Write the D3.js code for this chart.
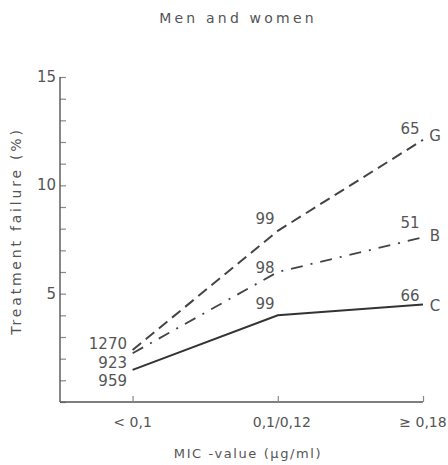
<!DOCTYPE html>
<html><head><meta charset="utf-8">
<script src="https://cdn.jsdelivr.net/npm/d3@7"></script>
<style>
html,body{margin:0;padding:0;background:#fff;}
text{font-family:"DejaVu Sans",sans-serif;fill:#555;}
</style></head>
<body><svg id="c" width="448" height="465"></svg>
<script>
const categories = ["< 0,1", "0,1/0,12", "\u2265 0,18"];
const seriesNames = ["G", "B", "C"];
const valuesG = [2.4, 7.9, 12.1];
const valuesB = [2.25, 6.0, 7.6];
const valuesC = [1.48, 4.0, 4.5];
const countsG = ["1270", "99", "65"];
const countsB = ["923", "98", "51"];
const countsC = ["959", "99", "66"];
const yTicks = [5, 10, 15];

const svg = d3.select("#c");
const x = d3.scaleLinear().domain([-0.5, 2]).range([60, 423]);
const y = d3.scaleLinear().domain([0, 15]).range([402, 77]);

// title
svg.append("text").attr("x", 238).attr("y", 23).attr("text-anchor", "middle")
  .attr("font-size", 14).attr("letter-spacing", 3.2).text("Men and women");

// y axis
const yAxis = d3.axisRight(y).tickValues(d3.range(0, 16, 1)).tickSize(6).tickFormat("");
const gy = svg.append("g").attr("transform", "translate(60,0)").call(yAxis);
gy.select(".domain").remove();
gy.selectAll("line").attr("stroke", "#888").attr("stroke-width", 1.2);
svg.append("line").attr("x1", 60).attr("x2", 60).attr("y1", y(15)).attr("y2", y(0))
  .attr("stroke", "#555").attr("stroke-width", 1.4);
svg.selectAll(".ylab").data(yTicks).join("text").attr("class", "ylab")
  .attr("x", 56).attr("y", d => y(d) + 5).attr("text-anchor", "end")
  .attr("font-size", 15).text(d => d);

// x axis
svg.append("line").attr("x1", x(-0.5)).attr("x2", x(2)).attr("y1", 402).attr("y2", 402)
  .attr("stroke", "#555").attr("stroke-width", 1.4);
const xAxis = d3.axisTop(x).tickValues([0, 1, 2]).tickSize(6).tickFormat("");
const gx = svg.append("g").attr("transform", "translate(0,402)").call(xAxis);
gx.select(".domain").remove();
gx.selectAll("line").attr("stroke", "#888").attr("stroke-width", 1.2);
svg.selectAll(".xlab").data(categories).join("text").attr("class", "xlab")
  .attr("x", (d, i) => x(i) + [0, 4, 0][i]).attr("y", 427).attr("text-anchor", "middle")
  .attr("font-size", 14).text(d => d);

svg.append("text").attr("x", 248).attr("y", 458).attr("text-anchor", "middle")
  .attr("font-size", 13).attr("letter-spacing", 1.6).text("MIC -value (\u00b5g/ml)");
svg.append("text").attr("transform", "translate(21,231) rotate(-90)").attr("text-anchor", "middle")
  .attr("font-size", 14).attr("letter-spacing", 2.8).text("Treatment failure (%)");

// lines
const line = d3.line().x((d, i) => x(i)).y(d => y(d));
const series = [
  {name: "G", vals: valuesG, counts: countsG, dash: "11,6", w: 2, c: "#444"},
  {name: "B", vals: valuesB, counts: countsB, dash: "12,8,2,8", w: 1.8, c: "#444"},
  {name: "C", vals: valuesC, counts: countsC, dash: null, w: 2, c: "#333"}
];
series.forEach(s => {
  svg.append("path").datum(s.vals).attr("d", line).attr("fill", "none")
    .attr("stroke", s.c).attr("stroke-width", s.w).attr("stroke-dasharray", s.dash);
});

// start counts
const startY = [343, 362, 380];
series.forEach((s, k) => {
  svg.append("text").attr("x", 127).attr("y", startY[k] + 6).attr("text-anchor", "end")
    .attr("font-size", 15).text(s.counts[0]);
});
// middle counts
const midY = [218, 267, 303];
series.forEach((s, k) => {
  svg.append("text").attr("x", 265).attr("y", midY[k] + 6).attr("text-anchor", "middle")
    .attr("font-size", 15).text(s.counts[1]);
});
// end counts
const endY = [128, 222, 295];
series.forEach((s, k) => {
  svg.append("text").attr("x", 410).attr("y", endY[k] + 6).attr("text-anchor", "middle")
    .attr("font-size", 15).text(s.counts[2]);
});
// series letters
const letterY = [135, 235, 305];
series.forEach((s, k) => {
  svg.append("text").attr("x", 435).attr("y", letterY[k] + 6).attr("text-anchor", "middle")
    .attr("font-size", 15).text(s.name);
});
</script></body></html>
